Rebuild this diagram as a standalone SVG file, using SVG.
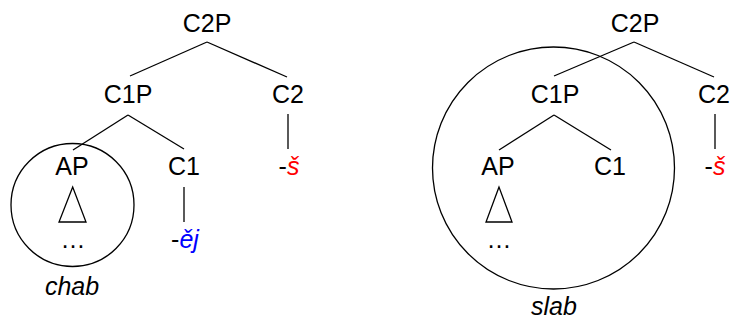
<svg xmlns="http://www.w3.org/2000/svg" width="732" height="321" viewBox="0 0 732 321">
<style>
text{font-family:"Liberation Sans",Arial,sans-serif;font-size:25px;fill:#000;text-anchor:middle}
.it{font-style:italic}
.red{fill:#ff0000}
.blue{fill:#0000ff}
line,circle,polygon{stroke:#000;stroke-width:1.3;fill:none}
</style>
<g id="connectors">
<line x1="207" y1="42" x2="130" y2="76"/>
<line x1="207" y1="42" x2="287" y2="77"/>
<line x1="128" y1="115" x2="73" y2="150"/>
<line x1="128" y1="115" x2="184" y2="149"/>
<line x1="288" y1="114" x2="288" y2="149"/>
<line x1="184" y1="187" x2="184" y2="222"/>
<line x1="634" y1="42" x2="554" y2="76"/>
<line x1="634" y1="42" x2="714" y2="77"/>
<line x1="554" y1="115" x2="499" y2="150"/>
<line x1="554" y1="115" x2="611" y2="150"/>
<line x1="715" y1="114" x2="715" y2="149"/>
</g>
<g id="left-C2P"><text x="207" y="32">C2P</text></g>
<g id="left-C1P"><text x="128" y="103">C1P</text></g>
<g id="left-C2"><text x="288" y="103">C2</text></g>
<g id="left-AP"><text x="72" y="175">AP</text><polygon points="72.7,187 59,222 86,222"/><text x="73" y="248">…</text></g>
<g id="left-C1"><text x="184" y="175">C1</text></g>
<g id="left-s"><text x="289" y="175">-<tspan class="it red">š</tspan></text></g>
<g id="left-ej"><text x="185" y="248">-<tspan class="it blue">ěj</tspan></text></g>
<g id="left-circle"><circle cx="72.5" cy="205" r="61.5"/><text class="it" x="72" y="295">chab</text></g>
<g id="right-C2P"><text x="635" y="32">C2P</text></g>
<g id="right-C1P"><text x="555" y="103">C1P</text></g>
<g id="right-C2"><text x="714" y="103">C2</text></g>
<g id="right-AP"><text x="498" y="175">AP</text><polygon points="499,187 486,222 512,222"/><text x="499" y="248">…</text></g>
<g id="right-C1"><text x="610" y="175">C1</text></g>
<g id="right-s"><text x="715" y="175">-<tspan class="it red">š</tspan></text></g>
<g id="right-circle"><circle cx="553.5" cy="168" r="121"/><text class="it" x="554" y="315">slab</text></g>
</svg>
